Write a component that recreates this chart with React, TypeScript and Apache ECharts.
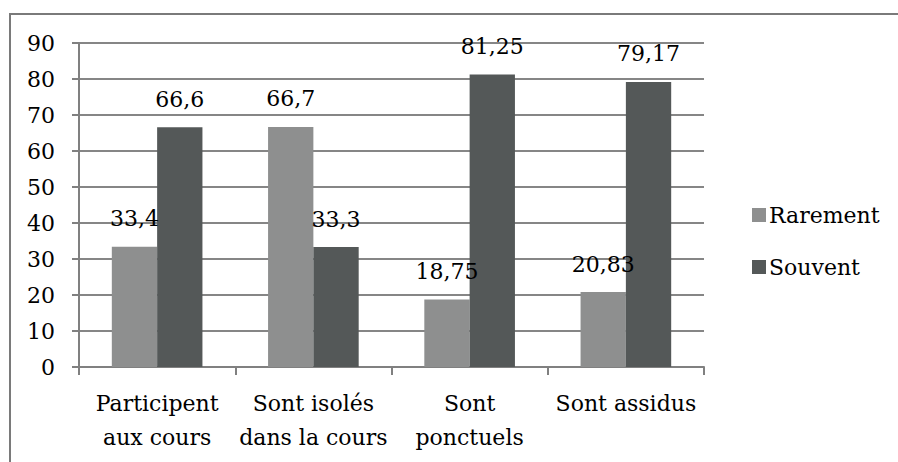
import React, { useEffect, useRef } from "react";
import * as echarts from "echarts";

const categories = ["Participent\naux cours", "Sont isolés\ndans la cours", "Sont\nponctuels", "Sont assidus"];
const rarement = [33.4, 66.7, 18.75, 20.83];
const souvent = [66.6, 33.3, 81.25, 79.17];
const seriesNames = ["Rarement", "Souvent"];

const FONT = "DejaVu Serif";

export default function App() {
  const ref = useRef<HTMLDivElement>(null);
  useEffect(() => {
    document.body.style.margin = "0";
    const chart = echarts.init(ref.current!, null, { renderer: "svg" });
    const label = {
      show: true,
      position: "top",
      distance: 17,
      color: "#000",
      fontFamily: FONT,
      fontSize: 22,
      formatter: (p: any) => String(p.value).replace(".", ","),
    };
    chart.setOption({
      animation: false,
      backgroundColor: "#fff",
      textStyle: { fontFamily: FONT },
      graphic: [
        {
          type: "rect",
          shape: { x: 10, y: 14, width: 900, height: 460 },
          style: { fill: "none", stroke: "#7a7a7a", lineWidth: 2 },
          silent: true,
        },
      ],
      grid: { left: 79, top: 43, width: 625, height: 324, containLabel: false },
      legend: {
        orient: "vertical",
        left: 747,
        top: 199,
        itemWidth: 14,
        itemHeight: 14,
        itemGap: 30,
        icon: "rect",
        textStyle: { fontFamily: FONT, fontSize: 22, color: "#000", padding: [0, 0, 0, -2] },
        data: seriesNames,
      },
      xAxis: {
        type: "category",
        data: categories,
        axisLine: { lineStyle: { color: "#808080", width: 2 } },
        axisTick: { show: true, length: 8, lineStyle: { color: "#808080", width: 2 } },
        axisLabel: {
          color: "#000",
          fontFamily: FONT,
          fontSize: 22,
          lineHeight: 34,
          margin: 19,
          interval: 0,
        },
      },
      yAxis: {
        type: "value",
        min: 0,
        max: 90,
        interval: 10,
        axisLine: { show: true, lineStyle: { color: "#808080", width: 2 } },
        axisTick: { show: true, length: 7, lineStyle: { color: "#808080", width: 2 } },
        axisLabel: { color: "#000", fontFamily: FONT, fontSize: 22, margin: 24 },
        splitLine: { show: true, lineStyle: { color: "#868686", width: 2 } },
      },
      series: [
        {
          name: seriesNames[0],
          type: "bar",
          data: rarement,
          barGap: "0%",
          barCategoryGap: "42%",
          itemStyle: { color: "#8e8f8f" },
          label,
        },
        {
          name: seriesNames[1],
          type: "bar",
          data: souvent,
          barGap: "0%",
          barCategoryGap: "42%",
          itemStyle: { color: "#545858" },
          label,
        },
      ],
    });
    return () => chart.dispose();
  }, []);
  return <div ref={ref} style={{ position: "fixed", left: 0, top: 0, width: 898, height: 462 }} />;
}
